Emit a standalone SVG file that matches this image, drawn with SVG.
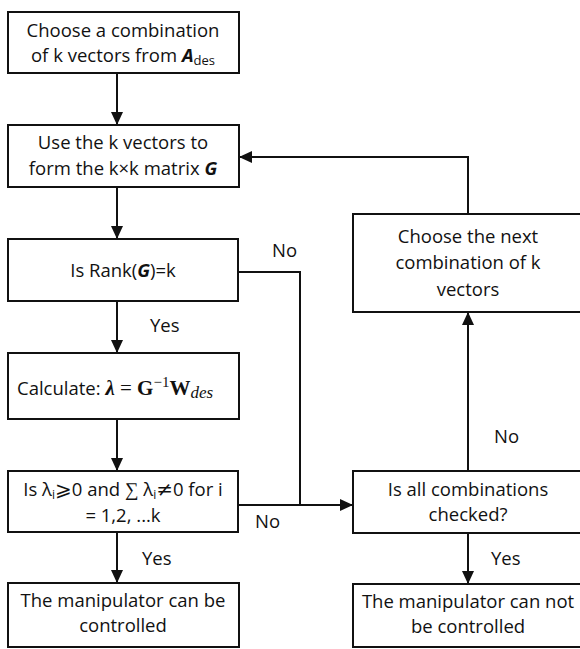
<svg xmlns="http://www.w3.org/2000/svg" width="580" height="649" viewBox="0 0 580 649">
<style>
.box{fill:#fff;stroke:#111;stroke-width:2}
.t{font-family:"Open Sans","Liberation Sans",sans-serif;font-size:18.5px;fill:#111;text-anchor:middle}
.lbl{font-family:"Open Sans","Liberation Sans",sans-serif;font-size:18.5px;fill:#111}
.c{fill:none;stroke:#111;stroke-width:2}
.m{font-family:"Liberation Serif","DejaVu Serif",serif}
.sym{font-family:"DejaVu Sans",sans-serif;font-size:20px}
</style>
<defs>
<marker id="ah" markerUnits="userSpaceOnUse" markerWidth="13" markerHeight="12" refX="13" refY="6" orient="auto">
<path d="M0,0 L13,6 L0,12 z" fill="#111"/>
</marker>
</defs>
<g id="connectors">
<line class="c" x1="117" y1="73" x2="117" y2="125" marker-end="url(#ah)"/>
<line class="c" x1="117" y1="187" x2="117" y2="239" marker-end="url(#ah)"/>
<line class="c" x1="117" y1="301" x2="117" y2="353" marker-end="url(#ah)"/>
<line class="c" x1="117" y1="419" x2="117" y2="471" marker-end="url(#ah)"/>
<line class="c" x1="117" y1="532" x2="117" y2="583" marker-end="url(#ah)"/>
<polyline class="c" points="238,272 300,272 300,505"/>
<line class="c" x1="238" y1="505" x2="353" y2="505" marker-end="url(#ah)"/>
<line class="c" x1="468" y1="471" x2="468" y2="312" marker-end="url(#ah)"/>
<polyline class="c" points="468,214 468,157 239,157" marker-end="url(#ah)"/>
<line class="c" x1="468" y1="533" x2="468" y2="584" marker-end="url(#ah)"/>
<text class="lbl" x="272" y="257">No</text>
<text class="lbl" x="150" y="332">Yes</text>
<text class="lbl" x="255" y="528">No</text>
<text class="lbl" x="142" y="565">Yes</text>
<text class="lbl" x="494" y="443">No</text>
<text class="lbl" x="491" y="565">Yes</text>
</g>
<g id="n1">
<rect class="box" x="8" y="12" width="231" height="61"/>
<text class="t" x="123" y="37">Choose a combination</text>
<text class="t" x="123" y="62">of k vectors from <tspan font-weight="bold" font-style="italic">A</tspan><tspan font-size="13" dy="3">des</tspan></text>
</g>
<g id="n2">
<rect class="box" x="8" y="125" width="231" height="62"/>
<text class="t" x="123" y="149">Use the k vectors to</text>
<text class="t" x="123" y="175">form the k×k matrix <tspan font-weight="bold" font-style="italic">G</tspan></text>
</g>
<g id="n3">
<rect class="box" x="8" y="239" width="230" height="62"/>
<text class="t" x="123" y="277">Is Rank(<tspan font-weight="bold" font-style="italic">G</tspan>)=k</text>
</g>
<g id="n4">
<rect class="box" x="8" y="353" width="231" height="66"/>
<text class="lbl" x="17" y="395">Calculate: <tspan class="m" font-weight="bold" font-style="italic" font-size="21">λ</tspan><tspan class="m" font-size="21"> = </tspan><tspan class="m" font-weight="bold" font-size="21">G</tspan><tspan class="m" font-size="15" dy="-8">−1</tspan><tspan class="m" font-weight="bold" font-size="21" dy="8">W</tspan><tspan class="m" font-style="italic" font-size="17" dy="3">des</tspan></text>
</g>
<g id="n5">
<rect class="box" x="8" y="471" width="230" height="61"/>
<text class="t" x="123" y="496">Is λ<tspan font-size="12" dy="3">i</tspan><tspan class="sym" dy="-3">⩾</tspan>0 and <tspan class="m" font-size="19">∑</tspan> λ<tspan font-size="12" dy="3">i</tspan><tspan class="sym" dy="-3">≠</tspan>0 for i</text>
<text class="t" x="123" y="522">= 1,2, ...k</text>
</g>
<g id="n6">
<rect class="box" x="8" y="583" width="231" height="64"/>
<text class="t" x="123" y="607">The manipulator can be</text>
<text class="t" x="123" y="632">controlled</text>
</g>
<g id="n7">
<rect class="box" x="353" y="214" width="230" height="98"/>
<text class="t" x="468" y="243">Choose the next</text>
<text class="t" x="468" y="269">combination of k</text>
<text class="t" x="468" y="296">vectors</text>
</g>
<g id="n8">
<rect class="box" x="353" y="471" width="230" height="62"/>
<text class="t" x="468" y="496">Is all combinations</text>
<text class="t" x="468" y="521">checked?</text>
</g>
<g id="n9">
<rect class="box" x="353" y="584" width="230" height="63"/>
<text class="t" x="468" y="608">The manipulator can not</text>
<text class="t" x="468" y="633">be controlled</text>
</g>
</svg>
